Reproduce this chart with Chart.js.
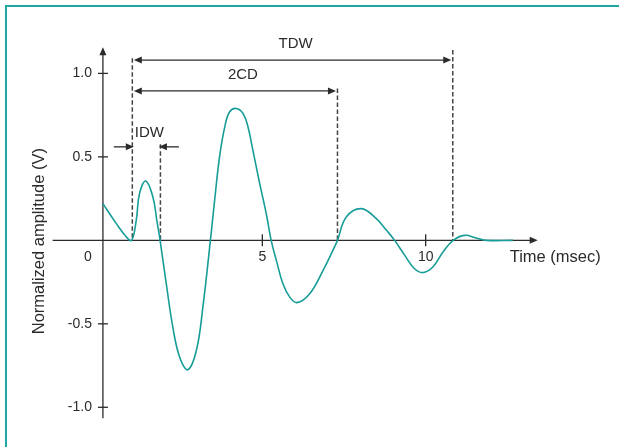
<!DOCTYPE html>
<html>
<head>
<meta charset="utf-8">
<script src="https://cdn.jsdelivr.net/npm/chart.js@4/dist/chart.umd.min.js"></script>
<style>
  html, body { margin: 0; padding: 0; background: #fff; }
  #frame {
    position: absolute; left: 5px; top: 5px; width: 700px; height: 500px;
    border-top: 2px solid #1fa7a2; border-left: 2px solid #1fa7a2;
  }
  #wrap { position: absolute; left: 0; top: 0; width: 619px; height: 447px; overflow: hidden; }
</style>
</head>
<body>
<div id="wrap">
  <div id="frame"></div>
  <div style="position:absolute;left:0;top:0;width:619px;height:447px;">
    <canvas id="chart"></canvas>
  </div>
</div>
<script>
// Waveform (time in msec, normalized amplitude in V)
const timeMs = [0.12, 0.53, 0.84, 1.0, 1.14, 1.24, 1.43, 1.65, 1.77, 1.87,
    2.06, 2.26, 2.47, 2.72, 2.98, 3.18, 3.41, 3.54, 3.69, 3.85, 4.0, 4.2,
    4.41, 4.56, 4.71, 4.92, 5.12, 5.27, 5.43, 5.63, 5.84, 6.06, 6.45, 6.86,
    7.16, 7.3, 7.57, 8.03, 8.49, 8.8, 9.05, 9.36, 9.66, 9.92, 10.22, 10.53,
    10.84, 11.19, 11.55, 11.86, 12.67];
const amplitude = [0.22, 0.10, 0.02, 0, 0.12, 0.28, 0.355, 0.26, 0.12, 0,
    -0.26, -0.52, -0.70, -0.775, -0.66, -0.40, 0, 0.24, 0.50, 0.68, 0.77, 0.79,
    0.76, 0.68, 0.54, 0.34, 0.16, 0, -0.12, -0.26, -0.34, -0.373, -0.32, -0.18,
    -0.06, 0, 0.14, 0.19, 0.13, 0.06, 0, -0.09, -0.17, -0.193, -0.16, -0.07,
    0, 0.03, 0.014, 0, 0];

const xTickValues = [5, 10];
const xTickLabels = ['5', '10'];
const yTickValues = [1.0, 0.5, -0.5, -1.0];
const yTickLabels = ['1.0', '0.5', '-0.5', '-1.0'];

// duration markers (dashed lines) and the intervals between them
const markerTimes = [1.02, 1.88, 7.3, 10.83];
const markerTops = [1.09, 0.575, 0.91, 1.14];
const intervalNames = ['TDW', '2CD', 'IDW'];
const intervalStart = [1.02, 1.02, 1.02];
const intervalEnd = [10.83, 7.3, 1.88];
const intervalLevel = [1.08, 0.895, 0.56];

const TEXT = '#2b2b2b';
const FONT = '"Liberation Sans", Arial, Helvetica, sans-serif';
const yAxisAt = 0.12;

function arrowHead(ctx, x, y, dx, dy) {
    // filled triangle with its tip at (x, y), pointing along (dx, dy)
    const len = 8, half = 3.5;
    ctx.beginPath();
    ctx.moveTo(x, y);
    ctx.lineTo(x - dx * len - dy * half, y - dy * len - dx * half);
    ctx.lineTo(x - dx * len + dy * half, y - dy * len + dx * half);
    ctx.closePath();
    ctx.fill();
}

function hLine(ctx, x1, x2, y) {
    ctx.beginPath();
    ctx.moveTo(x1, y);
    ctx.lineTo(x2, y);
    ctx.stroke();
}

const axesPlugin = {
    id: 'axesAndMarkers',
    beforeDatasetsDraw(chart) {
        const { ctx, scales: { x, y } } = chart;
        const ax = x.getPixelForValue(yAxisAt);
        const ay = y.getPixelForValue(0);
        ctx.save();
        ctx.strokeStyle = TEXT;
        ctx.fillStyle = TEXT;
        ctx.lineWidth = 1.3;

        // x axis with arrow
        const xLeft = x.getPixelForValue(-1.42);
        const xRight = x.getPixelForValue(13.43);
        hLine(ctx, xLeft, xRight - 4, ay);
        arrowHead(ctx, xRight, ay, 1, 0);

        // y axis with arrow
        const yBottom = y.getPixelForValue(-1.066);
        const yTop = y.getPixelForValue(1.156);
        ctx.beginPath();
        ctx.moveTo(ax, yBottom);
        ctx.lineTo(ax, yTop + 4);
        ctx.stroke();
        arrowHead(ctx, ax, yTop, 0, -1);

        // ticks and labels
        ctx.font = '14px ' + FONT;
        ctx.textBaseline = 'middle';
        ctx.textAlign = 'center';
        xTickValues.forEach((v, i) => {
            const px = x.getPixelForValue(v);
            ctx.beginPath();
            ctx.moveTo(px, ay - 6);
            ctx.lineTo(px, ay + 6);
            ctx.stroke();
            ctx.fillText(xTickLabels[i], px, ay + 17);
        });
        ctx.fillText('0', ax - 15, ay + 17);

        ctx.textAlign = 'right';
        yTickValues.forEach((v, i) => {
            const py = y.getPixelForValue(v);
            hLine(ctx, ax - 5, ax + 5, py);
            ctx.fillText(yTickLabels[i], ax - 11, py);
        });

        // axis titles
        ctx.font = '16.5px ' + FONT;
        ctx.textAlign = 'left';
        ctx.fillText('Time (msec)', xRight - 28, ay + 17);
        ctx.save();
        ctx.translate(39, y.getPixelForValue(-0.005));
        ctx.rotate(-Math.PI / 2);
        ctx.textAlign = 'center';
        ctx.fillText('Normalized amplitude (V)', 0, 0);
        ctx.restore();

        // dashed duration markers
        ctx.strokeStyle = '#444';
        ctx.lineWidth = 1.5;
        ctx.setLineDash([4.5, 2.5]);
        markerTimes.forEach((t, i) => {
            const px = x.getPixelForValue(t);
            ctx.beginPath();
            ctx.moveTo(px, y.getPixelForValue(markerTops[i]));
            ctx.lineTo(px, ay);
            ctx.stroke();
        });
        ctx.restore();
    },
    afterDatasetsDraw(chart) {
        const { ctx, scales: { x, y } } = chart;
        ctx.save();
        ctx.strokeStyle = TEXT;
        ctx.fillStyle = TEXT;
        ctx.lineWidth = 1.3;
        ctx.font = '15px ' + FONT;
        ctx.textAlign = 'center';
        ctx.textBaseline = 'middle';

        intervalNames.forEach((name, i) => {
            const x1 = x.getPixelForValue(intervalStart[i]) + 1.5;
            const x2 = x.getPixelForValue(intervalEnd[i]) - 1.5;
            const py = y.getPixelForValue(intervalLevel[i]);
            if (x2 - x1 > 60) {
                // arrows between the markers
                hLine(ctx, x1 + 4, x2 - 4, py);
                arrowHead(ctx, x1, py, -1, 0);
                arrowHead(ctx, x2, py, 1, 0);
                ctx.fillText(name, (x1 + x2) / 2 + (i === 1 ? 8 : 3), py - 16);
            } else {
                // narrow interval: arrows from outside pointing in
                hLine(ctx, x1 - 20, x1 - 4, py);
                arrowHead(ctx, x1, py, 1, 0);
                hLine(ctx, x2 + 4, x2 + 20, py);
                arrowHead(ctx, x2, py, -1, 0);
                ctx.fillText(name, (x1 + x2) / 2 + 3, py - 14);
            }
        });
        ctx.restore();
    }
};

const points = timeMs.map((t, i) => ({ x: t, y: amplitude[i] }));

new Chart(document.getElementById('chart'), {
    type: 'line',
    data: {
        datasets: [{
            data: points,
            borderColor: '#179d97',
            borderWidth: 1.6,
            pointRadius: 0,
            tension: 0.4,
            fill: false
        }]
    },
    options: {
        responsive: true,
        maintainAspectRatio: false,
        animation: false,
        layout: { padding: { left: 50, right: 79, top: 40, bottom: 23 } },
        plugins: {
            legend: { display: false },
            tooltip: { enabled: false }
        },
        scales: {
            x: { type: 'linear', min: -1.5, max: 13.5, display: false },
            y: { type: 'linear', min: -1.1, max: 1.2, display: false }
        }
    },
    plugins: [axesPlugin]
});
</script>
</body>
</html>
